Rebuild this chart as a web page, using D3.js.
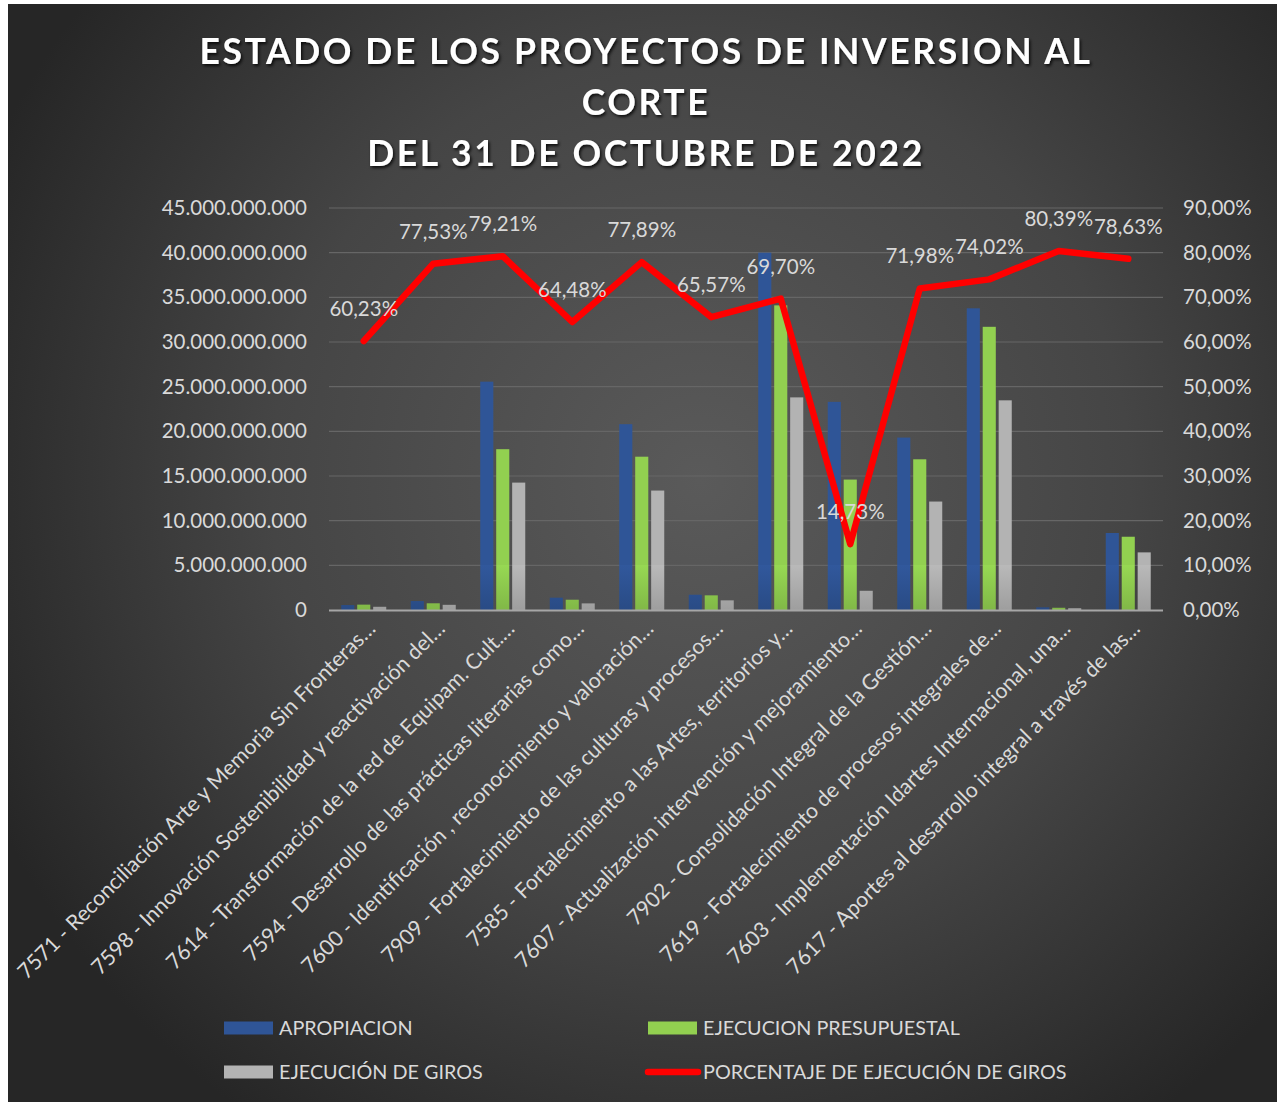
<!DOCTYPE html>
<html>
<head>
<meta charset="utf-8">
<script src="https://cdn.jsdelivr.net/npm/d3@7"></script>
<style>
  body { margin: 0; background: #fff; }
  svg { display: block; }
  text { font-family: Lato, "Open Sans", sans-serif; }
</style>
</head>
<body>
<script>
// project labels as shown on the x axis (already truncated in the original)
const projects = [
  "7571 - Reconciliación Arte y Memoria Sin Fronteras…",
  "7598 - Innovación Sostenibilidad y reactivación del…",
  "7614 - Transformación de la red de Equipam. Cult.…",
  "7594 - Desarrollo de las prácticas literarias como…",
  "7600 - Identificación , reconocimiento y valoración…",
  "7909 - Fortalecimiento de las culturas y procesos…",
  "7585 - Fortalecimiento a las Artes, territorios y…",
  "7607 - Actualización intervención y mejoramiento…",
  "7902 - Consolidación Integral de la Gestión…",
  "7619 - Fortalecimiento de procesos integrales de…",
  "7603 - Implementación Idartes Internacional, una…",
  "7617 - Aportes al desarrollo integral a través de las…"
];
// pesos
const apropiacion = [0.55e9, 1.0e9, 25.56e9, 1.38e9, 20.8e9, 1.71e9, 40.0e9, 23.3e9, 19.3e9, 33.77e9, 0.3e9, 8.62e9];
const ejecucion   = [0.6e9, 0.75e9, 18.0e9, 1.15e9, 17.16e9, 1.64e9, 34.1e9, 14.6e9, 16.87e9, 31.7e9, 0.25e9, 8.2e9];
const giros       = [0.36e9, 0.58e9, 14.26e9, 0.74e9, 13.37e9, 1.08e9, 23.8e9, 2.15e9, 12.14e9, 23.47e9, 0.2e9, 6.45e9];
// porcentaje de ejecucion de giros
const porcentaje  = [0.6023, 0.7753, 0.7921, 0.6448, 0.7789, 0.6557, 0.6970, 0.1473, 0.7198, 0.7402, 0.8039, 0.7863];

const seriesNames = ["APROPIACION", "EJECUCION PRESUPUESTAL", "EJECUCIÓN DE GIROS"];
const seriesColors = ["#2f5597", "#92d050", "#b3b3b3"];
const lineName = "PORCENTAJE DE EJECUCIÓN DE GIROS";
const titleLines = ["ESTADO DE LOS PROYECTOS DE INVERSION AL", "CORTE", "DEL 31 DE OCTUBRE DE 2022"];
const leftTicks = d3.range(0, 45e9 + 1, 5e9);
const rightTicks = d3.range(0, 0.9001, 0.1);

const W = 1277, H = 1102;
const plot = { left: 329, right: 1163, top: 208, bottom: 610 };

const svg = d3.select("body").append("svg").attr("width", W).attr("height", H);
const defs = svg.append("defs");

const bg = defs.append("radialGradient").attr("id", "bg")
  .attr("gradientUnits", "userSpaceOnUse")
  .attr("cx", 700).attr("cy", 480).attr("r", 780);
bg.append("stop").attr("offset", 0).attr("stop-color", "#5a5a5a");
bg.append("stop").attr("offset", 0.55).attr("stop-color", "#454545");
bg.append("stop").attr("offset", 1).attr("stop-color", "#262626");

// bars get a slightly different shade in the lowest band, like the original
seriesColors.forEach((c, i) => {
  const g = defs.append("linearGradient").attr("id", "bar" + i)
    .attr("gradientUnits", "userSpaceOnUse")
    .attr("x1", 0).attr("x2", 0).attr("y1", plot.top).attr("y2", plot.bottom);
  const dark = d3.color(c).darker(0.35);
  const light = d3.color(c).brighter(0.1);
  g.append("stop").attr("offset", 0).attr("stop-color", c);
  g.append("stop").attr("offset", 0.889).attr("stop-color", c);
  g.append("stop").attr("offset", 0.889).attr("stop-color", light);
  g.append("stop").attr("offset", 1).attr("stop-color", dark);
});

const shadow = defs.append("filter").attr("id", "shadow")
  .attr("x", "-5%").attr("y", "-20%").attr("width", "110%").attr("height", "150%");
shadow.append("feDropShadow").attr("dx", 1.5).attr("dy", 2).attr("stdDeviation", 1.5)
  .attr("flood-color", "#000").attr("flood-opacity", 0.8);

svg.append("rect").attr("x", 8).attr("y", 4).attr("width", W - 8).attr("height", H - 4)
  .attr("fill", "url(#bg)");

// title
svg.append("g").selectAll("text").data(titleLines).join("text")
  .attr("x", 646).attr("y", (d, i) => 64 + i * 51)
  .attr("text-anchor", "middle")
  .attr("fill", "#ffffff")
  .attr("font-size", 35.5).attr("font-weight", 700)
  .attr("letter-spacing", 2.6)
  .attr("filter", "url(#shadow)")
  .text(d => d);

const x = d3.scaleBand().domain(projects).range([plot.left, plot.right]);
const xInner = d3.scaleBand().domain(d3.range(3)).range([0, 45]).paddingInner(0.18);
const groupOffset = (x.bandwidth() - 45) / 2;
const y = d3.scaleLinear().domain([0, 45e9]).range([plot.bottom, plot.top]);
const y2 = d3.scaleLinear().domain([0, 0.9]).range([plot.bottom, plot.top]);

// gridlines
svg.append("g").selectAll("line").data(leftTicks.slice(1)).join("line")
  .attr("x1", plot.left).attr("x2", plot.right)
  .attr("y1", d => y(d)).attr("y2", d => y(d))
  .attr("stroke", "#666666").attr("stroke-width", 1.2);

const fmtLeft = d => d3.format(",")(d).replace(/,/g, ".");
const fmtPct = d => d3.format(".2f")(d * 100).replace(".", ",") + "%";

const axisColor = "#d9d9d9";
const leftAxis = svg.append("g").attr("transform", `translate(${plot.left},0)`)
  .call(d3.axisLeft(y).tickValues(leftTicks).tickFormat(fmtLeft).tickSize(0).tickPadding(22));
const rightAxis = svg.append("g").attr("transform", `translate(${plot.right},0)`)
  .call(d3.axisRight(y2).tickValues(rightTicks).tickFormat(fmtPct).tickSize(0).tickPadding(20));
[leftAxis, rightAxis].forEach(a => {
  a.select(".domain").remove();
  a.selectAll("text").attr("fill", axisColor).attr("font-size", 20.5)
    .attr("font-family", "Lato, sans-serif");
});

// bars
const series = [apropiacion, ejecucion, giros];
const barG = svg.append("g");
series.forEach((vals, si) => {
  barG.append("g").selectAll("rect").data(vals).join("rect")
    .attr("x", (d, i) => x(projects[i]) + groupOffset + xInner(si))
    .attr("y", d => y(d))
    .attr("width", xInner.bandwidth())
    .attr("height", d => plot.bottom - y(d))
    .attr("fill", `url(#bar${si})`);
});

// x axis baseline
svg.append("line")
  .attr("x1", plot.left).attr("x2", plot.right)
  .attr("y1", plot.bottom + 0.5).attr("y2", plot.bottom + 0.5)
  .attr("stroke", "#a6a6a6").attr("stroke-width", 2);

// category labels
svg.append("g").selectAll("text").data(projects).join("text")
  .attr("transform", d => `translate(${x(d) + x.bandwidth() / 2 + 13},${plot.bottom + 20}) rotate(-45)`)
  .attr("text-anchor", "end")
  .attr("fill", axisColor).attr("font-size", 21.3)
  .text(d => d);

// line
const cx = i => x(projects[i]) + x.bandwidth() / 2;
const line = d3.line().x((d, i) => cx(i)).y(d => y2(d));
svg.append("path").datum(porcentaje)
  .attr("d", line)
  .attr("fill", "none").attr("stroke", "#ff0000").attr("stroke-width", 6.5)
  .attr("stroke-linejoin", "round").attr("stroke-linecap", "round");

svg.append("g").selectAll("text").data(porcentaje).join("text")
  .attr("x", (d, i) => cx(i)).attr("y", d => y2(d) - 25)
  .attr("text-anchor", "middle")
  .attr("fill", axisColor).attr("font-size", 20.5)
  .text(fmtPct);

// legend
const legend = [
  { name: seriesNames[0], color: seriesColors[0], x: 224, y: 1028, type: "rect" },
  { name: seriesNames[1], color: seriesColors[1], x: 648, y: 1028, type: "rect" },
  { name: seriesNames[2], color: seriesColors[2], x: 224, y: 1072, type: "rect" },
  { name: lineName, color: "#ff0000", x: 648, y: 1072, type: "line" }
];
const lg = svg.append("g").selectAll("g").data(legend).join("g")
  .attr("transform", d => `translate(${d.x},${d.y})`);
lg.filter(d => d.type === "rect").append("rect")
  .attr("x", 0).attr("y", -6.5).attr("width", 49).attr("height", 13)
  .attr("fill", d => d.color);
lg.filter(d => d.type === "line").append("line")
  .attr("x1", 0).attr("x2", 50).attr("y1", 0).attr("y2", 0)
  .attr("stroke", d => d.color).attr("stroke-width", 6.5).attr("stroke-linecap", "round");
lg.append("text")
  .attr("x", 55).attr("y", 7)
  .attr("fill", axisColor).attr("font-size", 19.8)
  .text(d => d.name);
</script>
</body>
</html>
